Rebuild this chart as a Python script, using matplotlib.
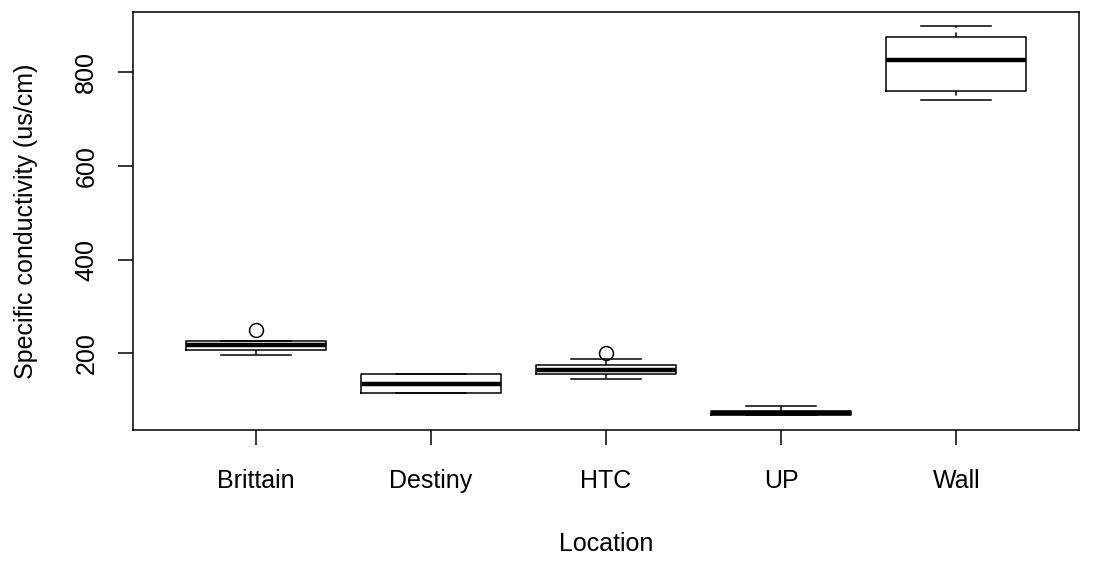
import matplotlib
matplotlib.use('Agg')
import matplotlib.pyplot as plt

plt.rcParams['font.family'] = ['Liberation Sans', 'DejaVu Sans']

# box statistics
locations = ['Brittain', 'Destiny', 'HTC', 'UP', 'Wall']
whislo = [196, 115, 146, 68, 742]
q1 = [208, 116, 155, 68, 761]
med = [218, 134, 165, 73, 826]
q3 = [226, 156, 174, 77, 876]
whishi = [227, 156, 188, 87, 900]
fliers = [[250], [], [201], [], []]

stats = []
for i, name in enumerate(locations):
    stats.append({'label': name, 'whislo': whislo[i], 'q1': q1[i], 'med': med[i],
                  'q3': q3[i], 'whishi': whishi[i], 'fliers': fliers[i]})

fig = plt.figure(figsize=(10.94, 5.65), dpi=100)
ax = fig.add_axes([0.1216, 0.2389, 0.8647, 0.7399])

ax.bxp(stats, positions=range(1, 6), widths=0.8,
       boxprops=dict(color='black', linewidth=1.1),
       medianprops=dict(color='black', linewidth=3.2, solid_capstyle='butt'),
       whiskerprops=dict(color='black', linewidth=1.1, linestyle=(0, (3, 3))),
       capprops=dict(color='black', linewidth=1.1),
       capwidths=0.4,
       flierprops=dict(marker='o', markersize=10, markerfacecolor='none',
                       markeredgecolor='black', markeredgewidth=1.1))

ax.set_xlim(0.3, 5.7)
ax.set_ylim(36, 929)
ax.set_yticks([200, 400, 600, 800])
ax.set_xticks(range(1, 6))
ax.set_xticklabels(locations)
for lbl in ax.get_yticklabels():
    lbl.set_rotation(90)
    lbl.set_va('center')
ax.tick_params(axis='both', length=11, width=1.1, labelsize=18, pad=14)
ax.tick_params(axis='x', pad=17)
ax.set_xlabel('Location', fontsize=18, labelpad=28)
ax.set_ylabel('Specific conductivity (us/cm)', fontsize=18, labelpad=26)
for sp in ax.spines.values():
    sp.set_linewidth(1.1)

fig.savefig('out.png', dpi=100)
